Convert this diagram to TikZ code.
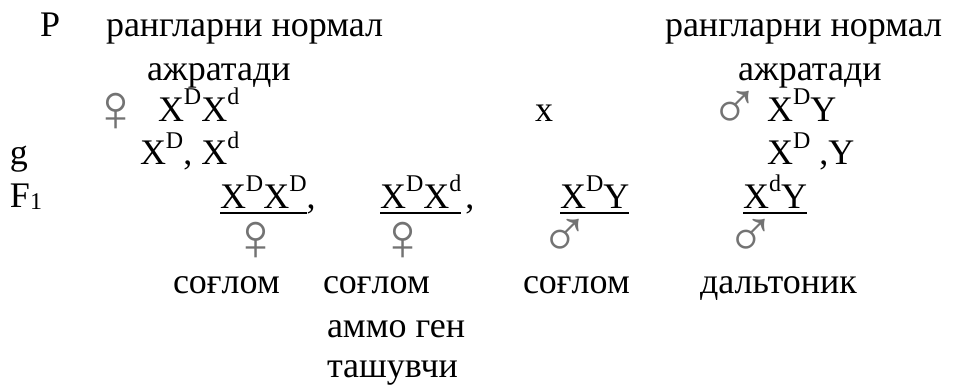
\documentclass[tikz,border=0pt]{standalone}
\usepackage{fontspec}
\setmainfont{Liberation Serif}
\newcommand\sps[1]{\raisebox{8.5pt}{\fontsize{12}{12}\selectfont #1}}
\newcommand\sbs[1]{\raisebox{-1.5pt}{\fontsize{12}{12}\selectfont #1}}
\begin{document}
\begin{tikzpicture}[x=0.5pt,y=-0.5pt,
  txt/.style={anchor=base west,inner sep=0pt,outer sep=0pt,font=\fontsize{18}{21}\selectfont},
  sym/.style={anchor=center,inner sep=0pt,outer sep=0pt,font=\fontsize{34}{36}\selectfont,text=black!55},
  uline/.style={line width=1pt}]
\useasboundingbox (0,0) rectangle (959,385);
% row 1
\node[txt] (P) at (40,37) {P};
\node[txt] (rn1) at (106,37) {рангларни нормал};
\node[txt] (rn2) at (665,37) {рангларни нормал};
\node[txt] (aj1) at (147,81) {ажратади};
\node[txt] (aj2) at (738,81) {ажратади};
% parents
\node[sym] (pf) at (116,112) {♀};
\node[txt] (pg1) at (158,122) {X\sps{D}X\sps{d}};
\node[txt] (cross) at (535,122) {x};
\node[sym] (pm) at (735,110) {♂};
\node[txt] (pg2) at (767,122) {X\sps{D}Y};
% gametes
\node[txt] (g) at (10,165) {g};
\node[txt] (gam1) at (140,165) {X\sps{D}, X\sps{d}};
\node[txt] (gam2) at (767,165) {X\sps{D} ,Y};
% F1
\node[txt] (F) at (10,207) {F\sbs{1}};
\node[txt] (o1) at (220,208) {X\sps{D}X\sps{D}};
\node[txt] (c1) at (o1.base east) {,};
\node[txt] (o2) at (380,208) {X\sps{D}X\sps{d}};
\node[txt] (c2) at ([xshift=2pt]o2.base east) {,};
\node[txt] (o3) at (560,208) {X\sps{D}Y};
\node[txt] (o4) at (743,208) {X\sps{d}Y};
\foreach \n in {o1,o2,o3,o4}{
  \draw[uline] ([yshift=-2.5pt]\n.base west) -- ([yshift=-2.5pt]\n.base east);
}
% sex symbols
\node[sym] (s1) at (256,241) {♀};
\node[sym] (s2) at (403,241) {♀};
\node[sym] (s3) at (565,238) {♂};
\node[sym] (s4) at (751,238) {♂};
% phenotypes
\node[txt] (p1) at (173,293) {соғлом};
\node[txt] (p2) at (323,293) {соғлом};
\node[txt] (p3) at (523,293) {соғлом};
\node[txt] (p4) at (700,293) {дальтоник};
\node[txt] (p5) at (327,337) {аммо ген};
\node[txt] (p6) at (327,377) {ташувчи};
\end{tikzpicture}
\end{document}
